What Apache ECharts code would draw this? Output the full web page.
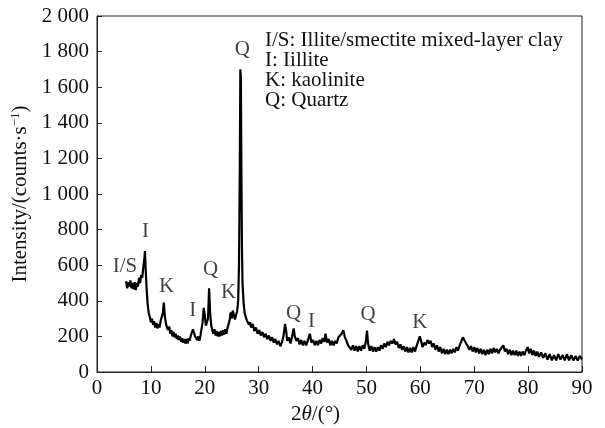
<!DOCTYPE html>
<html>
<head>
<meta charset="utf-8">
<script src="https://cdn.jsdelivr.net/npm/echarts@6/dist/echarts.min.js"></script>
<style>
  html, body { margin: 0; padding: 0; background: #fff; }
  #xrdChart { width: 605px; height: 428px; }
</style>
</head>
<body>
<div id="xrdChart"></div>
<script>
// diffraction angle (2theta, degrees) and intensity (counts/s)
const twoTheta = [
  5.4, 5.6, 5.8, 6.0, 6.2, 6.4, 6.6, 6.8, 7.0, 7.2, 7.4, 7.6, 7.8, 8.0, 8.2, 8.4, 8.6, 8.8, 8.9, 9.0,
  9.2, 9.4, 9.6, 9.8, 10.0, 10.2, 10.4, 10.6, 10.8, 11.0, 11.2, 11.4, 11.6, 11.8, 12.0, 12.2, 12.4, 12.6, 12.8, 13.0,
  13.2, 13.4, 13.6, 13.8, 14.0, 14.2, 14.4, 14.6, 14.8, 15.0, 15.2, 15.4, 15.6, 15.8, 16.0, 16.2, 16.4, 16.6, 16.8, 17.0,
  17.2, 17.4, 17.6, 17.8, 18.0, 18.2, 18.4, 18.6, 18.8, 19.0, 19.2, 19.4, 19.6, 19.8, 20.0, 20.2, 20.4, 20.6, 20.8, 21.0,
  21.2, 21.4, 21.6, 21.8, 22.0, 22.2, 22.4, 22.6, 22.8, 23.0, 23.2, 23.4, 23.6, 23.8, 24.0, 24.2, 24.4, 24.6, 24.8, 25.0,
  25.2, 25.4, 25.6, 25.8, 26.0, 26.2, 26.35, 26.5, 26.6, 26.7, 26.8, 26.9, 27.0, 27.2, 27.4, 27.6, 27.8, 28.0, 28.2, 28.4,
  28.6, 28.9, 29.2, 29.5, 29.8, 30.1, 30.4, 30.7, 31.0, 31.3, 31.6, 31.9, 32.2, 32.5, 32.8, 33.1, 33.4, 33.7, 34.0, 34.3,
  34.6, 34.9, 35.1, 35.3, 35.6, 35.9, 36.2, 36.5, 36.7, 37.0, 37.3, 37.6, 37.9, 38.2, 38.5, 38.8, 39.1, 39.5, 39.8, 40.1,
  40.4, 40.7, 41.0, 41.3, 41.6, 41.9, 42.2, 42.4, 42.7, 43.0, 43.3, 43.6, 43.9, 44.2, 44.5, 44.8, 45.1, 45.4, 45.7, 46.0,
  46.3, 46.6, 46.9, 47.2, 47.5, 47.8, 48.1, 48.4, 48.7, 49.0, 49.3, 49.6, 49.9, 50.1, 50.3, 50.6, 50.9, 51.2, 51.5, 51.8,
  52.1, 52.4, 52.7, 53.0, 53.3, 53.6, 53.9, 54.2, 54.5, 54.8, 55.1, 55.4, 55.7, 56.0, 56.3, 56.6, 56.9, 57.2, 57.5, 57.8,
  58.1, 58.4, 58.7, 59.0, 59.3, 59.6, 59.9, 60.1, 60.4, 60.7, 61.0, 61.3, 61.6, 61.9, 62.2, 62.5, 62.8, 63.1, 63.4, 63.7,
  64.0, 64.3, 64.6, 64.9, 65.2, 65.5, 65.8, 66.1, 66.4, 66.7, 67.0, 67.3, 67.6, 67.9, 68.2, 68.5, 68.8, 69.1, 69.4, 69.7,
  70.0, 70.3, 70.6, 70.9, 71.2, 71.5, 71.8, 72.1, 72.4, 72.7, 73.0, 73.3, 73.6, 73.9, 74.2, 74.5, 74.8, 75.1, 75.4, 75.7,
  76.0, 76.3, 76.6, 76.9, 77.2, 77.5, 77.8, 78.1, 78.4, 78.7, 79.0, 79.3, 79.6, 79.9, 80.2, 80.5, 80.8, 81.1, 81.4, 81.7,
  82.0, 82.4, 82.8, 83.2, 83.6, 84.0, 84.4, 84.8, 85.2, 85.6, 86.0, 86.4, 86.8, 87.2, 87.6, 88.0, 88.4, 88.8, 89.2, 89.6,
  90.0
];
const intensity = [
  510, 470, 505, 480, 515, 470, 500, 465, 505, 460, 500, 480, 530, 500, 545, 530, 590, 640, 680, 600,
  470, 380, 330, 310, 280, 300, 265, 285, 250, 275, 245, 270, 250, 285, 280, 330, 390, 310, 270, 250,
  235, 255, 215, 235, 200, 225, 195, 215, 185, 205, 180, 200, 170, 190, 165, 185, 160, 185, 160, 190,
  175, 205, 195, 240, 230, 200, 210, 180, 200, 175, 205, 215, 280, 360, 320, 260, 250, 300, 470, 330,
  260, 235, 215, 240, 205, 230, 200, 225, 200, 230, 205, 235, 210, 240, 215, 245, 250, 290, 335, 300,
  345, 320, 295, 320, 340, 400, 600, 1150, 1700, 1650, 1100, 700, 500, 390, 330, 310, 290, 300, 265, 280,
  250, 270, 230, 250, 215, 235, 205, 225, 195, 215, 185, 205, 175, 195, 165, 185, 155, 175, 145, 165,
  200, 270, 230, 175, 195, 160, 200, 245, 200, 175, 190, 155, 180, 150, 175, 150, 175, 215, 165, 180,
  150, 175, 150, 180, 160, 190, 170, 215, 165, 185, 150, 175, 150, 175, 160, 195, 185, 215, 235, 195,
  175, 150, 160, 125, 150, 120, 145, 115, 145, 120, 150, 130, 175, 232, 160, 120, 145, 115, 140, 115,
  140, 120, 150, 130, 160, 140, 170, 150, 175, 160, 185, 155, 170, 135, 155, 125, 145, 115, 140, 110,
  135, 110, 140, 115, 145, 140, 200, 180, 140, 165, 150, 180, 160, 175, 140, 160, 125, 150, 115, 140,
  105, 130, 100, 125, 100, 125, 105, 130, 110, 140, 120, 150, 160, 195, 205, 160, 145, 125, 145, 115,
  140, 110, 135, 105, 130, 100, 125, 95, 125, 100, 130, 105, 135, 110, 130, 105, 125, 115, 150, 115,
  130, 100, 125, 95, 120, 95, 120, 90, 115, 90, 115, 95, 120, 140, 105, 130, 95, 120, 90, 115,
  85, 110, 80, 105, 70, 100, 65, 95, 65, 100, 70, 95, 65, 100, 65, 95, 65, 90, 65, 90,
  70
];

// phase labels written over the peaks
const peakNames = ['I/S', 'I', 'K', 'I', 'Q', 'K', 'Q', 'Q', 'I', 'Q', 'K'];
const peakX = [5.2, 9.0, 12.9, 17.75, 21.1, 24.4, 26.95, 36.5, 39.8, 50.3, 59.9];
const peakY = [593, 788, 479, 347, 576, 445, 1810, 328, 286, 323, 280];

const keyLines = [
  'I/S: Illite/smectite mixed-layer clay',
  'I: Iillite',
  'K: kaolinite',
  'Q: Quartz'
];

const serif = '"Liberation Serif", "DejaVu Serif", serif';
const ink = '#111';

const chart = echarts.init(document.getElementById('xrdChart'));

const option = {
  backgroundColor: '#fff',
  animation: false,
  textStyle: { fontFamily: serif, color: ink },
  grid: {
    left: 97, right: 23, top: 16, bottom: 56,
    outerBoundsMode: 'none',
    show: true,
    borderColor: '#222',
    borderWidth: 1
  },
  xAxis: {
    type: 'value',
    min: 0, max: 90, interval: 10,
    name: '2{i|θ}/(°)',
    nameLocation: 'middle',
    nameGap: 31,
    nameTextStyle: {
      fontFamily: serif, fontSize: 21, color: ink,
      padding: [0, 48, 0, 0],
      rich: { i: { fontFamily: serif, fontSize: 21, fontStyle: 'italic', color: ink } }
    },
    axisLine: { show: true, lineStyle: { color: '#222', width: 1 } },
    axisTick: { show: true, inside: true, length: 6, lineStyle: { color: '#222' } },
    axisLabel: { fontFamily: serif, fontSize: 21, color: ink, margin: 6 },
    splitLine: { show: false }
  },
  yAxis: {
    type: 'value',
    min: 0, max: 2000, interval: 200,
    name: 'Intensity/(counts·s{s|−1})',
    nameLocation: 'middle',
    nameGap: 62,
    nameTextStyle: {
      fontFamily: serif, fontSize: 21, color: ink,
      rich: { s: { fontFamily: serif, fontSize: 13, color: ink, verticalAlign: 'top', padding: [0, 0, 10, 0] } }
    },
    axisLine: { show: true, lineStyle: { color: '#222', width: 1 } },
    axisTick: { show: true, inside: true, length: 5, lineStyle: { color: '#222' } },
    axisLabel: {
      fontFamily: serif, fontSize: 21, color: ink, margin: 8,
      formatter: function (v) {
        return String(v).replace(/\B(?=(\d{3})+(?!\d))/g, ' ');
      }
    },
    splitLine: { show: false }
  },
  series: [
    {
      name: 'XRD',
      type: 'line',
      data: twoTheta.map((t, i) => [t, intensity[i]]),
      showSymbol: false,
      lineStyle: { color: '#000', width: 2.2 },
      z: 3
    },
    {
      name: 'phases',
      type: 'scatter',
      symbolSize: 0,
      data: peakX.map((x, i) => ({ value: [x, peakY[i]], name: peakNames[i] })),
      label: {
        show: true,
        position: 'inside',
        formatter: p => p.name,
        fontFamily: serif,
        fontSize: 21,
        color: ink
      },
      silent: true,
      z: 4
    }
  ],
  graphic: [
    {
      type: 'text',
      left: 265,
      top: 30,
      style: {
        text: keyLines.join('\n'),
        font: '21px ' + serif,
        lineHeight: 20,
        fill: ink
      }
    }
  ]
};

chart.setOption(option);
</script>
</body>
</html>
